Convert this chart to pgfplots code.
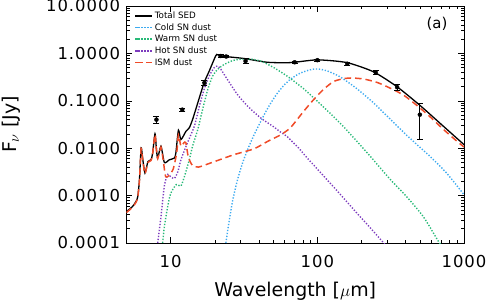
\documentclass[border=0pt]{standalone}
\usepackage{pgfplots}
\pgfplotsset{compat=1.18}
\usepackage{fontspec}
\setmainfont{DejaVu Sans}
\newfontfamily\tickfont{DejaVu Sans}[LetterSpace=6]
\definecolor{coldc}{RGB}{60,170,240}
\definecolor{warmc}{RGB}{40,185,120}
\definecolor{hotc}{RGB}{125,60,190}
\definecolor{ismc}{RGB}{240,75,40}
\begin{document}
\begin{tikzpicture}
\begin{axis}[
 name=ax,
 scale only axis, width=337.5bp, height=237bp,
 xmode=log, ymode=log,
 xmin=5, xmax=1000, ymin=1e-4, ymax=10,
 xtick={10,100,1000}, xticklabels={10,100,1000},
 ytick={1e-4,1e-3,1e-2,1e-1,1,10},
 yticklabels={0.0001,0.0010,0.0100,0.1000,1.0000,10.0000},
 tick label style={font=\tickfont\fontsize{16.5}{18}\selectfont},
 xticklabel style={yshift=-9bp},
 yticklabel style={xshift=-3bp},
 tick align=inside, xtick pos=both, ytick pos=both,
 major tick length=6bp, minor tick length=3.5bp,
 every tick/.style={black, line width=0.6pt},
 axis line style={line width=0.9pt},
 xlabel={Wavelength [$\mu$m]},
 ylabel={F$_\nu$ [Jy]},
 xlabel style={font=\fontsize{19}{22}\selectfont, at={(axis description cs:0.5,-0.2266)}, anchor=base},
 ylabel style={font=\fontsize{19}{22}\selectfont, at={(axis description cs:-0.3422,0.5)}, anchor=center},
 legend style={at={(axis description cs:0,1)}, anchor=north west, xshift=5bp, yshift=-2bp,
   draw=none, fill=none, font=\fontsize{8.8}{10}\selectfont, row sep=0.3bp, cells={anchor=west},
   nodes={inner sep=1.6bp}},
 legend cell align=left,
]
% Total SED
\addplot[black, line width=1.3bp, smooth, tension=0.4] coordinates {
(5,4.6e-4) (5.5,5.9e-4) (5.8,7.5e-4) (5.97,9.5e-4) (6.13,2.2e-3) (6.29,0.0101) (6.45,0.006)
(6.68,0.003) (7.0,0.0052) (7.35,0.0057) (7.54,0.0079) (7.82,0.0201) (8.0,0.0095) (8.16,0.0062)
(8.59,0.011) (9.06,0.005) (9.8,0.0057) (10.6,0.0062) (10.85,0.0079) (11.3,0.024) (11.75,0.0152)
(12.7,0.0226) (13.4,0.027) (14.1,0.040) (15.3,0.090) (16.9,0.24) (18.3,0.42) (19.8,0.75)
(20.6,0.95) (22.0,0.88) (24.4,0.85) (31.7,0.78) (45.7,0.65) (65.8,0.64) (100,0.73) (159,0.64)
(241,0.41) (348,0.20) (501,0.080) (724,0.029) (1000,0.0119)};
\addlegendentry{Total SED}
% Cold SN dust
\addplot[coldc, line width=1.4bp, dash pattern=on 1.3bp off 1.7bp, smooth, tension=0.4] coordinates {
(23.8,1e-4) (25.0,2.8e-4) (26.5,8e-4) (28.5,0.0021) (31,0.0050) (34,0.0105) (37,0.019) (40,0.031)
(44,0.055) (48,0.088) (53,0.14) (59,0.21) (66,0.29) (76,0.38) (89,0.45) (100,0.47) (116,0.43)
(143,0.32) (186,0.18) (242,0.090) (314,0.041) (405,0.019) (500,0.0105) (587,0.0067) (760,0.0030)
(1000,0.00105)};
\addlegendentry{Cold SN dust}
% Warm SN dust
\addplot[warmc, line width=1.4bp, dash pattern=on 1.3bp off 1.7bp, smooth, tension=0.4] coordinates {
(8.82,1e-4) (9.06,2.2e-4) (9.55,5.9e-4) (10.0,0.0011) (10.9,0.0017) (11.75,0.0016) (12.4,0.0025)
(13.4,0.0057) (14.1,0.011) (15.3,0.0246) (16.5,0.065) (17.9,0.173) (19.3,0.33) (20.9,0.46)
(23.2,0.585) (27.1,0.72) (33.4,0.77) (41.1,0.69) (50.6,0.50) (62.4,0.33) (80,0.183) (100,0.098)
(122.6,0.054) (150,0.029) (186,0.014) (230,0.0067) (314,0.0022) (405,9.6e-4) (528,3.6e-4)
(667,1.1e-4) (700,9e-5)};
\addlegendentry{Warm SN dust}
% Hot SN dust
\addplot[hotc, line width=1.4bp, dash pattern=on 1.3bp off 1.7bp, smooth, tension=0.4] coordinates {
(8.16,1e-4) (8.59,3.6e-4) (9.06,0.0016) (9.55,0.0028) (10.0,0.0025) (10.6,0.0023) (11.2,0.0032)
(11.75,0.0057) (13.0,0.0129) (14.5,0.029) (15.7,0.077) (16.9,0.173) (18.3,0.33) (19.8,0.50)
(20.9,0.54) (22.0,0.46) (24.4,0.28) (28.5,0.136) (33.5,0.077) (41.1,0.0435) (50.6,0.028)
(56,0.022) (62.4,0.0175) (74.5,0.0101) (85,0.0063) (110,0.00263) (143,0.00107) (186,4.3e-4)
(242,1.74e-4) (276,1.1e-4) (300,8.3e-5)};
\addlegendentry{Hot SN dust}
% ISM dust
\addplot[ismc, line width=1.5bp, dash pattern=on 6.5bp off 4bp, smooth, tension=0.4] coordinates {
(5,4.4e-4) (5.5,5.7e-4) (5.8,7.2e-4) (5.97,9.2e-4) (6.13,2.1e-3) (6.29,0.0098) (6.45,0.0058)
(6.68,0.0029) (7.0,0.0050) (7.35,0.0055) (7.54,0.0076) (7.82,0.0195) (8.0,0.0092) (8.16,0.0060)
(8.59,0.0105) (8.9,0.0055) (9.25,0.0025) (9.8,0.0027) (10.4,0.0036) (11.0,0.008) (11.3,0.019)
(11.75,0.011) (12.3,0.013) (12.7,0.013) (13.2,0.0065) (14.1,0.0043) (15.5,0.0040) (18.8,0.0049)
(27,0.0073) (37,0.0097) (46,0.014) (56,0.019) (65.5,0.027) (80.7,0.060) (94.4,0.106) (110,0.173)
(129,0.255) (151,0.293) (172,0.303) (207,0.288) (255,0.245) (314,0.185) (387,0.132) (477,0.080)
(587,0.046) (723,0.025) (891,0.0142) (1000,0.0106)};
\addlegendentry{ISM dust}
% photometry
\addplot[black, only marks, mark=*, mark size=2bp, forget plot,
  error bars/.cd, y dir=both, y explicit,
  error bar style={line width=0.9pt},
  error mark options={black, mark size=3bp, line width=0.9pt, rotate=90}]
  table[x=x, y=y, y error=e] {
x y e
8.0 0.040 0.007
12.0 0.065 0.005
17.0 0.24 0.03
21.9 0.88 0.05
23.9 0.86 0.05
32.4 0.69 0.08
70 0.65 0.03
100 0.72 0.03
160 0.605 0.05
250 0.40 0.04
350 0.194 0.03
500 0.051 0.036
};
\node[font=\fontsize{15}{18}\selectfont] at (axis description cs:0.92,0.924) {(a)};
\end{axis}
\pgfresetboundingbox
\path[use as bounding box] ([xshift=-126.5bp,yshift=-63bp]ax.south west) rectangle ([xshift=27bp,yshift=6bp]ax.north east);
\end{tikzpicture}
\end{document}
